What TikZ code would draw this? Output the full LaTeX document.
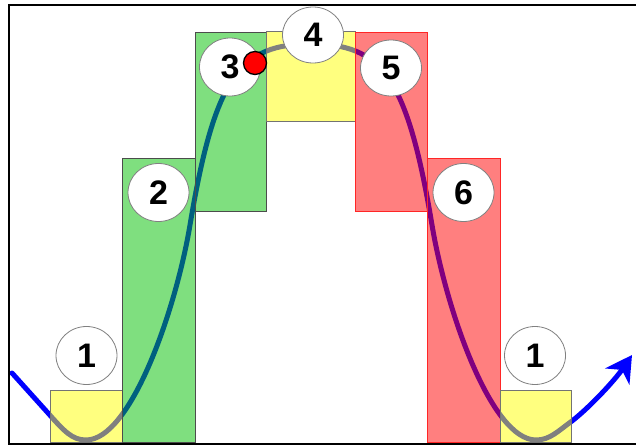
\documentclass[tikz,border=0pt]{standalone}
\usepackage{fontspec}
\setmainfont{Liberation Sans}
\usetikzlibrary{shapes.geometric,arrows.meta}
\definecolor{boxyellow}{RGB}{255,255,0}
\definecolor{boxgreen}{RGB}{0,192,0}
\definecolor{boxred}{RGB}{255,0,0}
\definecolor{curveblue}{RGB}{0,0,255}
\tikzset{
  ybox/.style={fill=boxyellow,fill opacity=0.5,draw=black!55,draw opacity=1,line width=1pt},
  gbox/.style={fill=boxgreen,fill opacity=0.5,draw=black!70,draw opacity=1,line width=0.8pt},
  rbox/.style={fill=boxred,fill opacity=0.5,draw=red!85,draw opacity=1,line width=0.8pt},
  numcirc/.style={ellipse,draw=black!50,line width=0.8pt,fill=white,inner sep=0pt,
    minimum width=61pt,minimum height=58pt,
    font=\fontsize{34}{34}\selectfont\bfseries},
  curve/.style={curveblue,line width=5pt,line cap=round,line join=round}
}
\begin{document}
\begin{tikzpicture}[x=1pt,y=-1pt]
\useasboundingbox (0,0) rectangle (636,446);
\fill[white] (0,0) rectangle (636,446);
% curve
\coordinate (cs) at (12,373);
\coordinate (ct) at (632,355);
\draw[curve,-{Stealth[length=26pt,width=29pt,inset=8pt]}]
 (cs) -- (48,413)
 .. controls (64,431) and (72,440) .. (86,440)
 .. controls (131,440) and (176,309) .. (190,225)
 .. controls (215,75) and (241,44) .. (311,44)
 .. controls (381,44) and (407,75) .. (432,225)
 .. controls (446,309) and (491,440) .. (536,440)
 .. controls (550,440) and (558,431) .. (572,421)
 .. controls (590,407) and (615,380) .. (ct);
% boxes
\filldraw[ybox] (50,390) rectangle (122,442);
\filldraw[gbox] (122,158) rectangle (195,442);
\filldraw[gbox] (195,32) rectangle (266,211);
\filldraw[ybox] (266,32) rectangle (355,122);
\filldraw[rbox] (355,32) rectangle (427,211);
\filldraw[rbox] (427,158) rectangle (500,442);
\filldraw[ybox] (500,390) rectangle (571,442);
% circles
\node[numcirc] (n1a) at (86.5,355.5) {1};
\node[numcirc] (n2) at (158.5,192.5) {2};
\node[numcirc] (n3) at (230,67) {3};
\node[numcirc, minimum height=56pt] (n4) at (313,35) {4};
\node[numcirc, minimum height=56pt] (n5) at (391,68) {5};
\node[numcirc] (n6) at (463.5,192.5) {6};
\node[numcirc] (n1b) at (535,355.5) {1};
% red dot
\filldraw[fill=red,draw=black,line width=1.3pt] (255,63) circle (11.5);
% frame
\draw[line width=2pt] (8.5,5) rectangle (645,444);
\end{tikzpicture}
\end{document}
